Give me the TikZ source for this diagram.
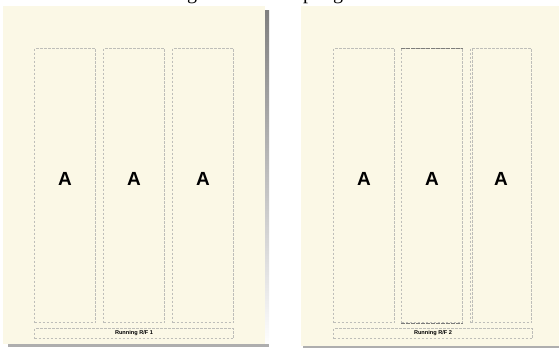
\documentclass[tikz,border=0pt]{standalone}
\usepackage{fontspec}
\setmainfont{Liberation Serif}
\setsansfont{Liberation Sans}
\usetikzlibrary{positioning}
\definecolor{paper}{RGB}{251,248,230}
\definecolor{guide}{RGB}{190,190,185}
\definecolor{guidedark}{RGB}{125,125,122}
\definecolor{shade}{RGB}{140,140,140}
\tikzset{
  colbox/.style={draw=guide, line width=1pt, dash pattern=on 2.5pt off 1.5pt,
    minimum width=61pt, minimum height=274pt, inner sep=0pt, anchor=north west},
  footbox/.style={draw=guide, line width=1pt, dash pattern=on 2.5pt off 1.5pt,
    minimum width=199pt, minimum height=10pt, inner sep=0pt, anchor=north west,
    font=\sffamily\bfseries\fontsize{5.6}{6}\selectfont},
  letter/.style={font=\sffamily\bfseries\fontsize{19}{19}\selectfont, inner sep=0pt},
  caption/.style={font=\fontsize{20}{20}\selectfont, inner sep=0pt, anchor=base west}
}
\begin{document}
\begin{tikzpicture}[x=1pt,y=-1pt]
\useasboundingbox (0,0) rectangle (559,348);
% cut-off caption above the pages
\begin{scope}
\clip (0,0) rectangle (559,348);
\node[caption] (capL) at (187,-1) {g};
\node[caption] (capRa) at (303,-1) {p};
\node[caption] (capRb) at (333,-1) {g};
\end{scope}
% shadows
\fill[shade] (265,10) rectangle (269,347);
\fill[shade!70] (8,344) rectangle (269,347);
\fill[shade!70] (303,346) rectangle (559,348);
% pages
\fill[paper] (3,6) rectangle (265,344);
\fill[paper] (301,6) rectangle (559,346);
% columns, left page
\foreach \i/\x in {1/34,2/103,3/172} {
  \node[colbox] (colL\i) at (\x,48) {};
  \node[letter] (aL\i) at ([yshift=7pt]colL\i.center) {A};
}
\node[footbox] (footL) at (34,328) {Running R/F 1};
% columns, right page
\foreach \i/\x in {1/333,2/401,3/470} {
  \node[colbox] (colR\i) at (\x,48) {};
  \node[letter] (aR\i) at ([yshift=7pt]colR\i.center) {A};
}
\node[footbox] (footR) at (333,328) {Running R/F 2};
% selected column edges
\draw[guidedark, line width=1pt, dash pattern=on 4pt off 1pt] (colR2.north west) -- (colR2.north east);
\draw[guidedark, line width=1pt, dash pattern=on 4pt off 1pt] (colR2.south west) -- (colR2.south east);
\draw[guide, line width=1pt, dash pattern=on 2.5pt off 1.5pt] ([xshift=2pt]colR3.north west) -- ([xshift=2pt]colR3.south west);
\end{tikzpicture}
\end{document}
